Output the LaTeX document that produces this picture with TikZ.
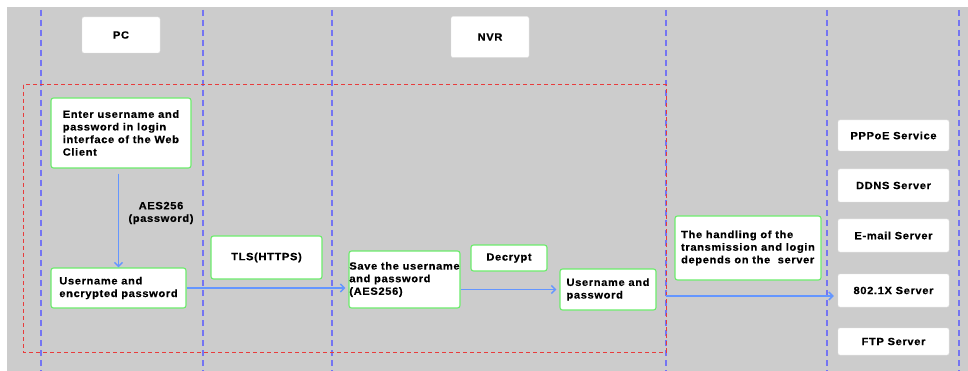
\documentclass[tikz,border=0pt]{standalone}
\usepackage{fontspec}
\setmainfont{Liberation Sans}[FakeStretch=1.06,LetterSpace=6,BoldFeatures={FakeBold=0.4}]
\usetikzlibrary{arrows.meta}
\definecolor{bggray}{HTML}{CCCCCC}
\definecolor{lanecol}{HTML}{7474F2}
\definecolor{framered}{HTML}{E83C3C}
\definecolor{boxgreen}{HTML}{6CEC6C}
\definecolor{flowblue}{HTML}{6496FF}
\tikzset{
  lane/.style={draw=lanecol,line width=2pt,dash pattern=on 6pt off 4pt},
  frame/.style={draw=framered,line width=1pt,dash pattern=on 4pt off 3pt},
  headbox/.style={fill=white,draw=black!12,rounded corners=2pt,inner sep=0pt},
  stepbox/.style={fill=white,draw=boxgreen,line width=1.1pt,rounded corners=2.5pt,align=left,inner sep=0pt},
  srvbox/.style={fill=white,draw=black!10,rounded corners=2pt,inner sep=0pt,minimum width=111pt},
  flow/.style={draw=flowblue,line width=1.5pt,-{Straight Barb[length=4pt,width=8pt]}},
}

\begin{document}
\begin{tikzpicture}[x=1pt,y=-1pt,font=\bfseries\fontsize{10.5}{12.6}\selectfont]
        \useasboundingbox (0,0) rectangle (968,371);
        \fill[bggray] (7,7) rectangle (968,371);
        \foreach \x in {41,203,332,666,827,959} {\draw[lane] (\x,10) -- (\x,371);}
        \draw[frame] (23,85) rectangle (666,352);

% headers
\node[headbox,minimum width=78pt,minimum height=36pt] (pc) at (121,35) {PC};
\node[headbox,minimum width=78pt,minimum height=41pt] (nvr) at (490,37) {NVR};

% steps
\node[stepbox,minimum width=140pt,minimum height=70pt] (enter) at (121,133) {Enter username and\\password in login\\interface of the Web\\Client};
\node[stepbox,minimum width=135pt,minimum height=40pt] (encpw) at (118.5,288) {Username and\\encrypted password};
\node[align=center] (aeslbl) at (161,213) {AES256\\(password)};
\node[stepbox,minimum width=111pt,minimum height=43pt] (tls) at (266.5,257.5) {TLS(HTTPS)};
\node[stepbox,minimum width=111pt,minimum height=57pt] (save) at (404.5,279.5) {Save the username\\and password\\(AES256)};
\node[stepbox,minimum width=76pt,minimum height=26pt] (decrypt) at (509,258) {Decrypt};
\node[stepbox,minimum width=96pt,minimum height=41pt] (userpw) at (608,289.5) {Username and\\password};
\node[stepbox,minimum width=146pt,minimum height=64pt] (handling) at (748,248) {The handling of the\\transmission and login\\depends on the\ \ server};

% servers
\node[srvbox,minimum height=31pt] (pppoe) at (893.5,135.5) {PPPoE Service};
\node[srvbox,minimum height=33pt] (ddns) at (893.5,185.5) {DDNS Server};
\node[srvbox,minimum height=33pt] (email) at (893.5,235.5) {E-mail Server};
\node[srvbox,minimum height=33pt] (dot1x) at (893.5,290.5) {802.1X Server};
\node[srvbox,minimum height=27pt] (ftp) at (893.5,341.5) {FTP Server};

\coordinate (relay) at (666,296);
\draw[flow,shorten <=5pt] (enter.south -| encpw.north) -- (encpw.north);
\draw[flow,shorten >=3pt] (encpw.east) -- (encpw.east -| save.west);
\draw[flow,shorten >=3pt] (userpw.west -| save.east) -- (userpw.west);
\draw[flow,shorten >=4pt] (relay) -- (relay -| dot1x.west);

\end{tikzpicture}
\end{document}
